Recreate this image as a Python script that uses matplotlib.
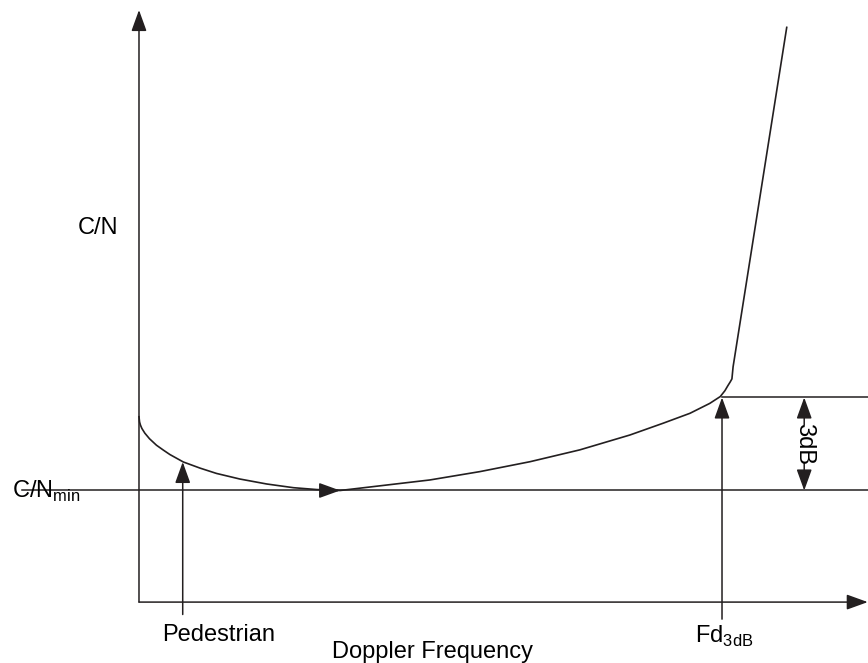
import matplotlib
matplotlib.use('Agg')
import matplotlib.pyplot as plt
from matplotlib.patches import ArrowStyle

plt.rcParams['font.family'] = ['Liberation Sans', 'DejaVu Sans']
plt.rcParams['mathtext.fontset'] = 'custom'
plt.rcParams['mathtext.rm'] = 'Liberation Sans'

# C/N curve, x = Doppler frequency in % of Fd3dB, y = C/N above C/N_min in dB
freq_left = [0.0, 0.1, 0.25, 0.5, 1.0, 1.8, 3.0, 4.2, 5.3, 7.6, 10.5, 13.3, 17.3, 21.9, 26.5, 30.5, 34.5]
cn_left = [2.38, 2.21, 2.11, 2.0, 1.85, 1.67, 1.46, 1.30, 1.16, 0.92, 0.72, 0.55, 0.37, 0.21, 0.09, 0.03, 0.0]
freq_right = [41.3, 49.9, 58.5, 67.1, 75.6, 84.2, 89.9, 94.5, 97.9, 99.7, 100.5, 101.0, 101.4, 101.7, 101.9, 111.1]
cn_right = [0.15, 0.34, 0.61, 0.93, 1.31, 1.79, 2.17, 2.49, 2.81, 3.03, 3.22, 3.38, 3.50, 3.60, 3.99, 14.94]

freq = freq_left + freq_right
cn = cn_left + cn_right

cn_min = 0.0
cn_3db = 3.0
fd_3db = 100.0
pedestrian = 7.5
pedestrian_cn = 0.92
min_freq = 34.5

axis_y = -3.6
axis_top = 15.5
axis_right = 125.0

ink = '#231f20'
lw = 1.1

fig = plt.figure(figsize=(8.68, 6.63), dpi=100)
ax = fig.add_axes([0, 0, 1, 1])
ax.set_xlim(-23.84, 125.04)
ax.set_ylim(-5.565, 15.823)
ax.axis('off')

head = ArrowStyle('-|>', head_length=13, head_width=4.7)


def arrow(x0, y0, x1, y1):
    ax.annotate('', xy=(x1, y1), xytext=(x0, y0),
                arrowprops=dict(arrowstyle=head, color=ink, lw=lw,
                                shrinkA=0, shrinkB=0, mutation_scale=1))


# axes
arrow(0, axis_y, 0, axis_top)
arrow(0, axis_y, axis_right, axis_y)

# reference lines
ax.plot([-20, axis_right], [cn_min, cn_min], color=ink, lw=lw)
ax.plot([fd_3db, axis_right], [cn_3db, cn_3db], color=ink, lw=lw)

# curve
ax.plot(freq, cn, color=ink, lw=1.2, solid_joinstyle='round')
arrow(min_freq - 3, cn_min, min_freq, cn_min)

# markers
arrow(pedestrian, -4.0, pedestrian, pedestrian_cn)
arrow(fd_3db, -4.15, fd_3db, cn_3db)

# 3dB span
arrow(114.1, 2.11, 114.1, cn_3db)
arrow(114.1, 0.89, 114.1, cn_min)
ax.text(114.1, 1.5, '3dB', rotation=270, ha='center', va='center', fontsize=17)

# labels
ax.text(-3.6, 8.27, 'C/N', ha='right', va='baseline', fontsize=17)
ax.text(-10.1, -0.24, r'C/N$_{\mathrm{min}}$', ha='right', va='baseline', fontsize=17)
ax.text(3.9, -4.85, 'Pedestrian', ha='left', va='baseline', fontsize=17)
ax.text(33.05, -5.39, 'Doppler Frequency', ha='left', va='baseline', fontsize=17)
ax.text(95.4, -4.92, r'Fd$_{\mathrm{3dB}}$', ha='left', va='baseline', fontsize=17)

plt.savefig('out.png', dpi=100)
